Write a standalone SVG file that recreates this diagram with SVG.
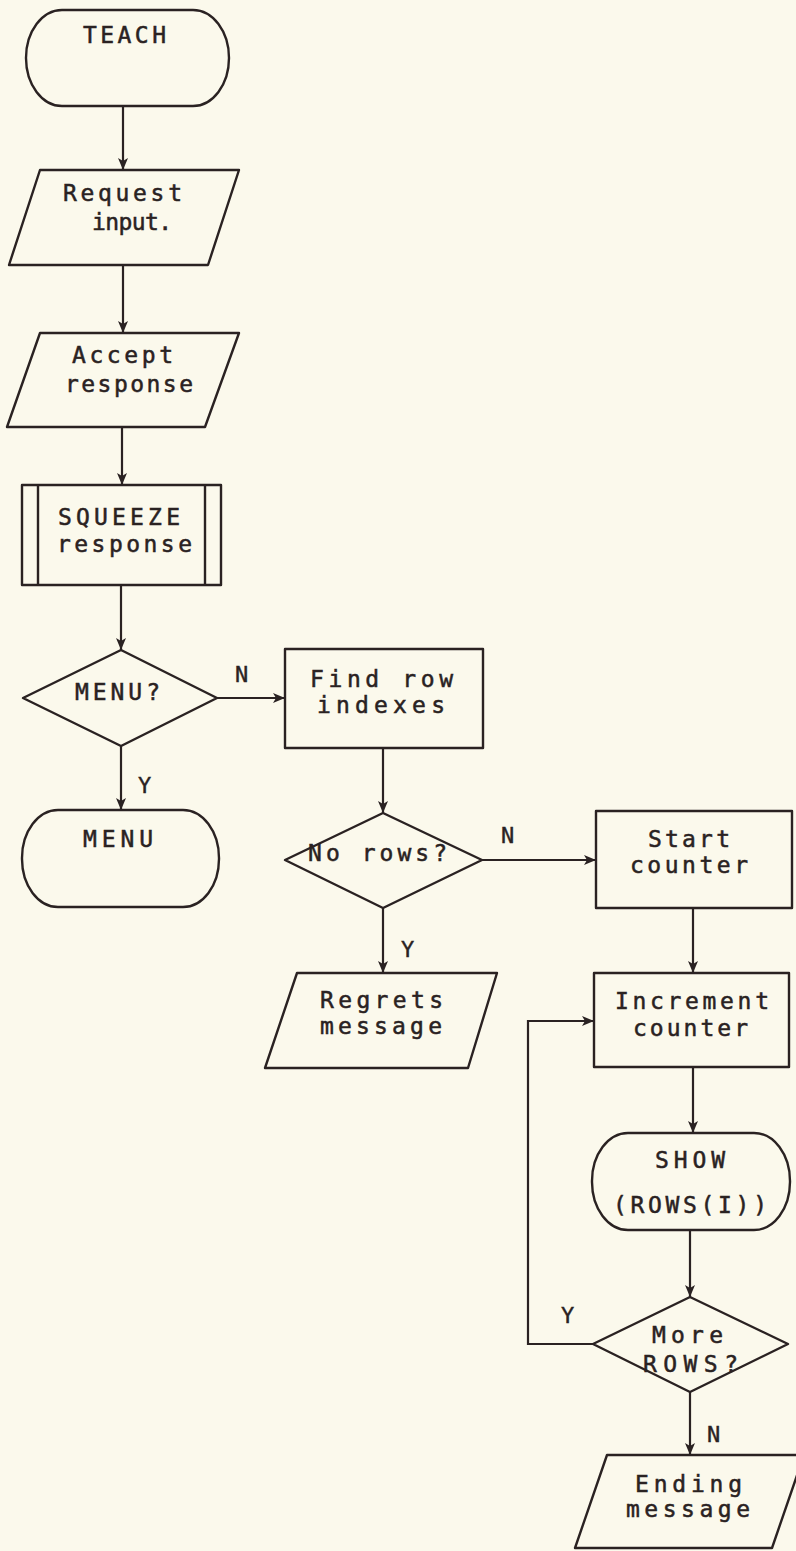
<svg xmlns="http://www.w3.org/2000/svg" width="796" height="1551" viewBox="0 0 796 1551">
<style>
.s{fill:none;stroke:#2a2222;stroke-width:2.4;stroke-linejoin:round}
.c{fill:none;stroke:#2a2222;stroke-width:2.2}
.t{font-family:"DejaVu Sans Mono","Liberation Mono",monospace;font-size:23px;fill:#2a2222;stroke:#2a2222;stroke-width:0.5}
.l{font-family:"DejaVu Sans Mono","Liberation Mono",monospace;font-size:22px;fill:#2a2222;stroke:#2a2222;stroke-width:0.4}
</style>
<defs>
<marker id="a" markerUnits="userSpaceOnUse" markerWidth="14" markerHeight="12" refX="12" refY="5" orient="auto">
<path d="M0,0 L12,5 L0,10 L3,5 z" fill="#2a2222"/>
</marker>
</defs>
<rect width="796" height="1551" fill="#fbf9ec"/>

<g id="connectors">
<line class="c" x1="123" y1="106" x2="123" y2="170" marker-end="url(#a)"/>
<line class="c" x1="123" y1="265" x2="123" y2="333" marker-end="url(#a)"/>
<line class="c" x1="122" y1="427" x2="122" y2="485" marker-end="url(#a)"/>
<line class="c" x1="121" y1="585" x2="121" y2="650" marker-end="url(#a)"/>
<line class="c" x1="217" y1="698" x2="285" y2="698" marker-end="url(#a)"/>
<line class="c" x1="121" y1="746" x2="121" y2="810" marker-end="url(#a)"/>
<line class="c" x1="383" y1="748" x2="383" y2="813" marker-end="url(#a)"/>
<line class="c" x1="482" y1="860" x2="596" y2="860" marker-end="url(#a)"/>
<line class="c" x1="383" y1="908" x2="383" y2="973" marker-end="url(#a)"/>
<line class="c" x1="693" y1="908" x2="693" y2="973" marker-end="url(#a)"/>
<line class="c" x1="693" y1="1067" x2="693" y2="1133" marker-end="url(#a)"/>
<line class="c" x1="690" y1="1230" x2="690" y2="1297" marker-end="url(#a)"/>
<polyline class="c" points="593,1344 528,1344 528,1021 594,1021" marker-end="url(#a)"/>
<line class="c" x1="690" y1="1392" x2="690" y2="1455" marker-end="url(#a)"/>
<text class="l" x="235" y="682">N</text>
<text class="l" x="138" y="793">Y</text>
<text class="l" x="501" y="843">N</text>
<text class="l" x="401" y="957">Y</text>
<text class="l" x="561" y="1323">Y</text>
<text class="l" x="707" y="1442">N</text>
</g>

<g id="teach">
<rect class="s" x="26" y="10" width="203" height="96" rx="36" ry="48"/>
<text class="t" x="83" y="43" textLength="83">TEACH</text>
</g>

<g id="request">
<polygon class="s" points="40,170 239,170 208,265 9,265"/>
<text class="t" x="63" y="201" textLength="119">Request</text>
<text class="t" x="92" y="230" textLength="80">input.</text>
</g>

<g id="accept">
<polygon class="s" points="40,333 239,333 205,427 7,427"/>
<text class="t" x="72" y="363" textLength="101">Accept</text>
<text class="t" x="65" y="392" textLength="128">response</text>
</g>

<g id="squeeze">
<rect class="s" x="22" y="485" width="199" height="100"/>
<line class="s" x1="38" y1="485" x2="38" y2="585"/>
<line class="s" x1="205" y1="485" x2="205" y2="585"/>
<text class="t" x="58" y="525" textLength="122">SQUEEZE</text>
<text class="t" x="57" y="552" textLength="135">response</text>
</g>

<g id="menu-q">
<polygon class="s" points="121,650 217,698 121,746 23,698"/>
<text class="t" x="75" y="700" textLength="85">MENU?</text>
</g>

<g id="menu">
<rect class="s" x="22" y="810" width="197" height="97" rx="36" ry="48"/>
<text class="t" x="83" y="847" textLength="70">MENU</text>
</g>

<g id="find">
<rect class="s" x="285" y="649" width="198" height="99"/>
<text class="t" x="310" y="687" textLength="143">Find row</text>
<text class="t" x="317" y="713" textLength="128">indexes</text>
</g>

<g id="norows">
<polygon class="s" points="383,813 482,860 383,908 285,860"/>
<text class="t" x="308" y="861" textLength="139">No rows?</text>
</g>

<g id="regrets">
<polygon class="s" points="297,973 497,973 468,1068 265,1068"/>
<text class="t" x="320" y="1008" textLength="123">Regrets</text>
<text class="t" x="320" y="1034" textLength="122">message</text>
</g>

<g id="start">
<rect class="s" x="596" y="811" width="196" height="97"/>
<text class="t" x="648" y="847" textLength="82">Start</text>
<text class="t" x="630" y="873" textLength="118">counter</text>
</g>

<g id="increment">
<rect class="s" x="594" y="973" width="195" height="94"/>
<text class="t" x="615" y="1009" textLength="154">Increment</text>
<text class="t" x="633" y="1036" textLength="115">counter</text>
</g>

<g id="show">
<rect class="s" x="592" y="1133" width="198" height="97" rx="36" ry="48"/>
<text class="t" x="655" y="1168" textLength="70">SHOW</text>
<text class="t" x="613" y="1213" textLength="154">(ROWS(I))</text>
</g>

<g id="more">
<polygon class="s" points="690,1297 788,1344 690,1392 593,1344"/>
<text class="t" x="652" y="1343" textLength="71">More</text>
<text class="t" x="643" y="1372" textLength="95">ROWS?</text>
</g>

<g id="ending">
<polygon class="s" points="607,1455 804,1455 772,1548 575,1548"/>
<text class="t" x="635" y="1492" textLength="107">Ending</text>
<text class="t" x="626" y="1517" textLength="124">message</text>
</g>
</svg>
